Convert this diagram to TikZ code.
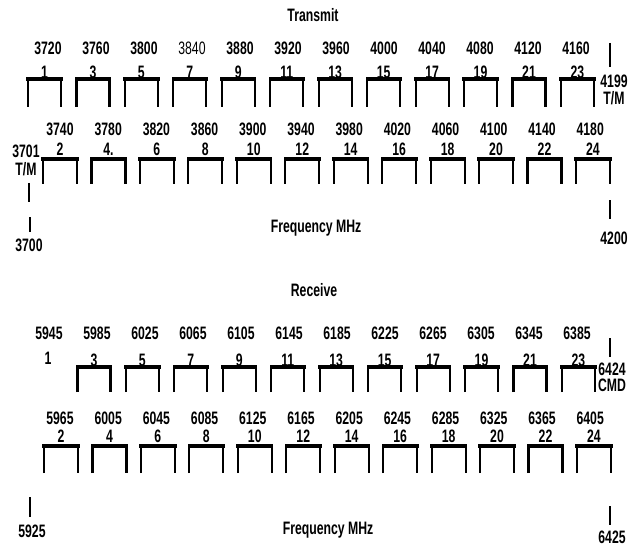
\documentclass[tikz,border=0pt]{standalone}
\usepackage{fontspec}
\setmainfont[FakeStretch=0.68]{Liberation Sans}
\begin{document}
\begin{tikzpicture}[x=1pt,y=-1pt,
  lbl/.style={font=\bfseries\fontsize{18}{19}\selectfont, inner sep=0pt},
  lbllight/.style={font=\fontsize{18}{19}\selectfont, inner sep=0pt},
  num/.style={lbl, anchor=south},
  side/.style={line width=2.2pt},
  topl/.style={line width=3.2pt, line cap=rect},
  tick/.style={line width=2.2pt}]
\useasboundingbox (0,0) rectangle (634,548);

% ---------------- Transmit ----------------
\node[lbl] (ttitle) at (313,15) {Transmit};

% odd channels
\foreach \k [evaluate=\k as \l using 28+48.45*\k,
             evaluate=\k as \r using 28+48.45*\k+33,
             evaluate=\k as \m using 28+48.45*\k+16.5,
             evaluate=\k as \fx using 48+48*\k,
             evaluate=\k as \f using int(3720+40*\k),
             evaluate=\k as \c using int(2*\k+1)] in {0,...,11}{
  \draw[side] (\l,107) -- (\l,79) (\r,79) -- (\r,107);
  \draw[topl] (\l,79) -- (\r,79);
  \node[num] (tn\c) at (\m,78.5) {\c};
  \ifnum\f=3840
    \node[lbllight] (tf\c) at (\fx,48) {\f};
  \else
    \node[lbl] (tf\c) at (\fx,48) {\f};
  \fi
}
% even channels
\foreach \k [evaluate=\k as \l using 43+48.45*\k,
             evaluate=\k as \r using 43+48.45*\k+34,
             evaluate=\k as \m using 43+48.45*\k+17,
             evaluate=\k as \fx using 60+48.2*\k,
             evaluate=\k as \f using int(3740+40*\k),
             evaluate=\k as \c using int(2*\k+2)] in {0,...,11}{
  \draw[side] (\l,184) -- (\l,159) (\r,159) -- (\r,184);
  \draw[topl] (\l,159) -- (\r,159);
  \ifnum\c=4
    \node[num] (tn\c) at (\m,156) {4.};
  \else
    \node[num] (tn\c) at (\m,156) {\c};
  \fi
  \node[lbl] (tf\c) at (\fx,129) {\f};
}

% markers
\coordinate (tma) at (610,43);
\coordinate (tmb) at (610,67);
\draw[tick] (tma) -- (tmb);
\node[lbl] (t4199) at (614,81) {4199};
\node[lbl] (ttm1) at (614,98.5) {T/M};

\node[lbl] (t3701) at (26,151) {3701};
\node[lbl] (ttm2) at (26,169) {T/M};
\coordinate (tla) at (29,183);
\coordinate (tlb) at (29,202);
\draw[tick] (tla) -- (tlb);
\coordinate (tlc) at (30,217);
\coordinate (tld) at (30,232);
\draw[tick] (tlc) -- (tld);
\node[lbl] (t3700) at (29,245) {3700};

\node[lbl] (tfreq) at (316,228) {Frequency MHz};
\coordinate (tra) at (610,200);
\coordinate (trb) at (610,219);
\draw[tick] (tra) -- (trb);
\node[lbl] (t4200) at (614,238) {4200};

% ---------------- Receive ----------------
\node[lbl] (rtitle) at (314,290) {Receive};

\node[lbl] (rn1) at (48,358) {1};
\node[lbl] (rf1) at (49,333) {5945};
\foreach \k [evaluate=\k as \l using 29+48.45*\k,
             evaluate=\k as \r using 29+48.45*\k+33,
             evaluate=\k as \m using 29+48.45*\k+16.5,
             evaluate=\k as \fx using 49+48*\k,
             evaluate=\k as \f using int(5945+40*\k),
             evaluate=\k as \c using int(2*\k+1)] in {1,...,11}{
  \draw[side] (\l,392) -- (\l,367) (\r,367) -- (\r,392);
  \draw[topl] (\l,367) -- (\r,367);
  \node[num] (rn\c) at (\m,366.5) {\c};
  \node[lbl] (rf\c) at (\fx,333) {\f};
}
\foreach \k [evaluate=\k as \l using 44+48.45*\k,
             evaluate=\k as \r using 44+48.45*\k+34,
             evaluate=\k as \m using 44+48.45*\k+17,
             evaluate=\k as \fx using 60+48.2*\k,
             evaluate=\k as \f using int(5965+40*\k),
             evaluate=\k as \c using int(2*\k+2)] in {0,...,11}{
  \draw[side] (\l,473) -- (\l,446) (\r,446) -- (\r,473);
  \draw[topl] (\l,446) -- (\r,446);
  \node[num] (rn\c) at (\m,443) {\c};
  \node[lbl] (rf\c) at (\fx,418) {\f};
}

\coordinate (rma) at (610,338);
\coordinate (rmb) at (610,357);
\draw[tick] (rma) -- (rmb);
\node[lbl] (r6424) at (612,369) {6424};
\node[lbl] (rcmd) at (612,385.5) {CMD};

\coordinate (rla) at (30,497);
\coordinate (rlb) at (30,517);
\draw[tick] (rla) -- (rlb);
\node[lbl] (r5925) at (32,531) {5925};

\node[lbl] (rfreq) at (328,530) {Frequency MHz};
\coordinate (rra) at (610,506);
\coordinate (rrb) at (610,525);
\draw[tick] (rra) -- (rrb);
\node[lbl] (r6425) at (612,537) {6425};
\end{tikzpicture}
\end{document}
